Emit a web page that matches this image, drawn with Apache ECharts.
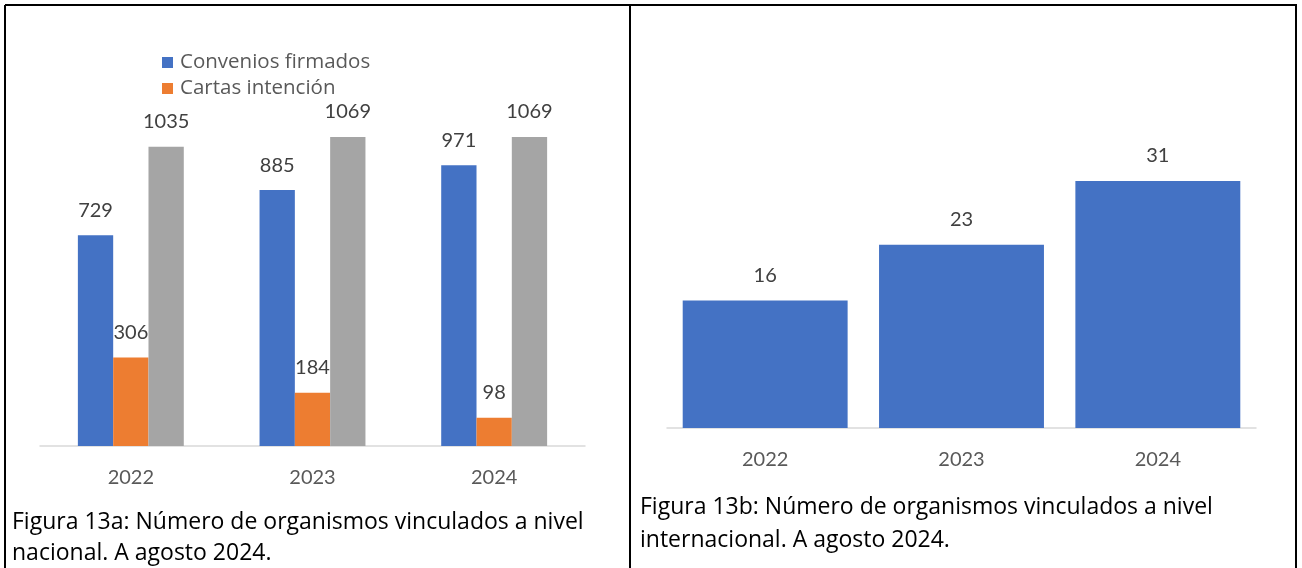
<!DOCTYPE html>
<html>
<head>
<meta charset="utf-8">
<script src="https://cdn.jsdelivr.net/npm/echarts@6/dist/echarts.min.js"></script>
<style>
  html, body { margin: 0; padding: 0; background: #fff; }
  #main { width: 1302px; height: 568px; }
</style>
</head>
<body>
<div id="main"></div>
<script>
// datos nacionales (figura 13a)
const years = ['2022', '2023', '2024']
const convenios = [729, 885, 971]
const cartas = [306, 184, 98]
const total = [1035, 1069, 1069]
// datos internacionales (figura 13b)
const internacional = [16, 23, 31]

const font = 'Lato'
const textFont = 'Open Sans'
const labelStyle = {
  show: true,
  position: 'top',
  distance: 15,
  color: '#404040',
  fontFamily: font,
  fontSize: 20,
  lineHeight: 20
}
const axisLabelStyle = {
  color: '#595959',
  fontFamily: font,
  fontSize: 20,
  margin: 22
}

const myChart = echarts.init(document.getElementById('main'))

const option = {
  animation: false,
  legend: {
    orient: 'vertical',
    left: 157,
    top: 47,
    itemWidth: 11,
    itemHeight: 11,
    itemGap: 5,
    icon: 'rect',
    data: ['Convenios firmados', 'Cartas intención'],
    textStyle: { color: '#595959', fontFamily: textFont, fontSize: 20.5, lineHeight: 20, padding: [0, 0, 0, 2] }
  },
  grid: [
    { left: 40, right: 717, top: 99, height: 347 },
    { left: 667, right: 46, top: 149, height: 279 }
  ],
  xAxis: [
    {
      type: 'category',
      gridIndex: 0,
      data: years,
      axisLine: { lineStyle: { color: '#d9d9d9', width: 1.5 } },
      axisTick: { show: false },
      axisLabel: axisLabelStyle
    },
    {
      type: 'category',
      gridIndex: 1,
      data: years,
      axisLine: { lineStyle: { color: '#d9d9d9', width: 1.5 } },
      axisTick: { show: false },
      axisLabel: axisLabelStyle
    }
  ],
  yAxis: [
    { type: 'value', gridIndex: 0, min: 0, max: 1200, show: false },
    { type: 'value', gridIndex: 1, min: 0, max: 35, show: false }
  ],
  series: [
    {
      name: 'Convenios firmados',
      type: 'bar',
      xAxisIndex: 0,
      yAxisIndex: 0,
      data: convenios,
      barGap: 0,
      barCategoryGap: '41.7%',
      itemStyle: { color: '#4472C4' },
      label: labelStyle
    },
    {
      name: 'Cartas intención',
      type: 'bar',
      xAxisIndex: 0,
      yAxisIndex: 0,
      data: cartas,
      barGap: 0,
      barCategoryGap: '41.7%',
      itemStyle: { color: '#ED7D31' },
      label: labelStyle
    },
    {
      name: 'Total',
      type: 'bar',
      xAxisIndex: 0,
      yAxisIndex: 0,
      data: total,
      barGap: 0,
      barCategoryGap: '41.7%',
      itemStyle: { color: '#A5A5A5' },
      label: labelStyle
    },
    {
      name: 'Internacional',
      type: 'bar',
      xAxisIndex: 1,
      yAxisIndex: 1,
      data: internacional,
      barCategoryGap: '16%',
      itemStyle: { color: '#4472C4' },
      label: labelStyle
    }
  ],
  graphic: [
    // marco de la tabla
    { type: 'line', shape: { x1: 5, y1: 5, x2: 1297, y2: 5 }, style: { stroke: '#000', lineWidth: 2 } },
    { type: 'line', shape: { x1: 5, y1: 5, x2: 5, y2: 570 }, style: { stroke: '#000', lineWidth: 2 } },
    { type: 'line', shape: { x1: 630, y1: 5, x2: 630, y2: 570 }, style: { stroke: '#000', lineWidth: 2 } },
    { type: 'line', shape: { x1: 1296, y1: 5, x2: 1296, y2: 570 }, style: { stroke: '#000', lineWidth: 2 } },
    // pies de figura
    {
      type: 'text',
      left: 12,
      top: 507,
      style: {
        text: 'Figura 13a: Número de organismos vinculados a nivel\nnacional. A agosto 2024.',
        fill: '#000',
        font: '23px "Open Sans"',
        lineHeight: 31
      }
    },
    {
      type: 'text',
      left: 640,
      top: 491,
      style: {
        text: 'Figura 13b: Número de organismos vinculados a nivel\ninternacional. A agosto 2024.',
        fill: '#000',
        font: '23px "Open Sans"',
        lineHeight: 33
      }
    }
  ]
}

myChart.setOption(option)
</script>
</body>
</html>
